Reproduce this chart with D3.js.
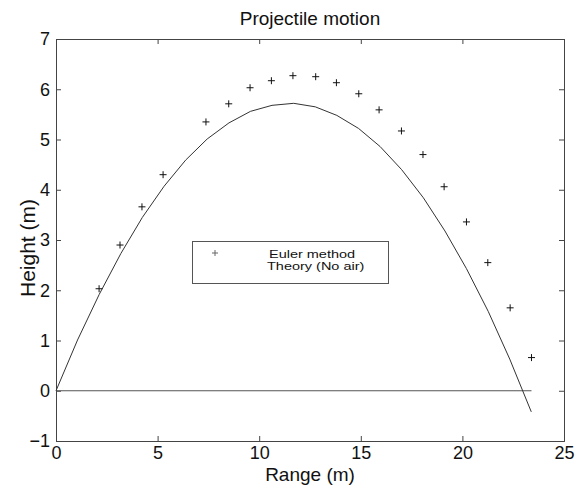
<!DOCTYPE html>
<html>
<head>
<meta charset="utf-8">
<script src="https://cdn.jsdelivr.net/npm/d3@7"></script>
<style>
  body { margin: 0; background: #fff; }
  svg text { font-family: "Liberation Sans", Arial, Helvetica, sans-serif; fill: #111; }
</style>
</head>
<body>
<div id="chart"></div>
<script>
//Datos
const eulerX = [2.12, 3.15, 4.23, 5.27, 7.38, 8.5, 9.55, 10.6, 11.66, 12.78, 13.8, 14.9, 15.9, 17.0, 18.06, 19.1, 20.2, 21.25, 22.35, 23.4];
const eulerY = [2.03, 2.9, 3.66, 4.3, 5.35, 5.71, 6.03, 6.17, 6.27, 6.25, 6.13, 5.91, 5.59, 5.17, 4.7, 4.06, 3.36, 2.55, 1.65, 0.66];

const theoryX = [0, 1.06, 2.13, 3.19, 4.25, 5.32, 6.38, 7.44, 8.51, 9.57, 10.63, 11.7, 12.76, 13.82, 14.89, 15.95, 17.01, 18.08, 19.14, 20.2, 21.27, 22.33, 23.39];
const theoryY = [0, 1.01, 1.92, 2.73, 3.45, 4.07, 4.59, 5.01, 5.33, 5.56, 5.68, 5.72, 5.65, 5.48, 5.22, 4.86, 4.4, 3.84, 3.18, 2.43, 1.58, 0.63, -0.42];

const groundX = [0, 23.4];
const groundY = [0, 0];

const xTicks = [0, 5, 10, 15, 20, 25];
const yTicks = [-1, 0, 1, 2, 3, 4, 5, 6, 7];

const legendLabels = ['Euler method', 'Theory (No air)'];

let margin = {top: 39, right: 13, bottom: 47, left: 56},
    width = 577 - margin.left - margin.right,
    height = 488 - margin.top - margin.bottom;

let svg = d3.select('#chart')
    .append('svg')
        .attr('width', 577)
        .attr('height', 488)
    .append('g')
        .attr('transform', 'translate(' + margin.left + ',' + margin.top + ')');

let x = d3.scaleLinear().domain([0, 25]).range([0, width]);
let y = d3.scaleLinear().domain([-1, 7]).range([height, 0]);

//Ejes (ticks hacia dentro, estilo matlab)
let axisColor = '#444';

svg.append('g')
    .attr('transform', 'translate(0,' + height + ')')
    .call(d3.axisBottom(x).tickValues(xTicks).tickSize(-5).tickPadding(8).tickFormat(d3.format('d')))
    .call(function(g) {
        g.select('.domain').attr('stroke', axisColor);
        g.selectAll('.tick line').attr('stroke', axisColor);
        g.selectAll('.tick text').attr('font-size', 18).attr('dy', '0.71em').attr('y', 5);
    });

svg.append('g')
    .call(d3.axisTop(x).tickValues(xTicks).tickSize(-5).tickFormat(''))
    .call(function(g) {
        g.select('.domain').attr('stroke', axisColor);
        g.selectAll('.tick line').attr('stroke', axisColor);
    });

svg.append('g')
    .call(d3.axisLeft(y).tickValues(yTicks).tickSize(-5).tickPadding(6).tickFormat(function(d) { return d < 0 ? '\u2212' + Math.abs(d) : d; }))
    .call(function(g) {
        g.select('.domain').attr('stroke', axisColor);
        g.selectAll('.tick line').attr('stroke', axisColor);
        g.selectAll('.tick text').attr('font-size', 18);
    });

svg.append('g')
    .attr('transform', 'translate(' + width + ',0)')
    .call(d3.axisRight(y).tickValues(yTicks).tickSize(-5).tickFormat(''))
    .call(function(g) {
        g.select('.domain').attr('stroke', axisColor);
        g.selectAll('.tick line').attr('stroke', axisColor);
    });

svg.selectAll('.domain').attr('fill', 'none');

//Linea del suelo
let line = d3.line()
    .x(function(d) { return x(d[0]); })
    .y(function(d) { return y(d[1]); });

svg.append('path')
    .datum(d3.zip(groundX, groundY))
    .attr('fill', 'none')
    .attr('stroke', '#555')
    .attr('stroke-width', 1)
    .attr('d', line);

//Teoria
svg.append('path')
    .datum(d3.zip(theoryX, theoryY))
    .attr('fill', 'none')
    .attr('stroke', '#333')
    .attr('stroke-width', 1)
    .attr('d', line);

//Euler (marcadores +)
let plus = function(px, py, r) {
    return 'M' + (px - r) + ',' + py + 'H' + (px + r) + 'M' + px + ',' + (py - r) + 'V' + (py + r);
};

svg.append('g')
    .selectAll('path')
    .data(d3.zip(eulerX, eulerY))
    .enter()
    .append('path')
    .attr('fill', 'none')
    .attr('stroke', '#111')
    .attr('stroke-width', 1)
    .attr('d', function(d) { return plus(x(d[0]), y(d[1]), 3.5); });

//Leyenda
let legend = svg.append('g')
    .attr('transform', 'translate(' + (192 - margin.left) + ',' + (241 - margin.top) + ')');

legend.append('rect')
    .attr('x', 0.5)
    .attr('y', 0.5)
    .attr('width', 196)
    .attr('height', 42)
    .attr('fill', '#fff')
    .attr('stroke', '#555')
    .attr('stroke-width', 1);

legend.append('path')
    .attr('fill', 'none')
    .attr('stroke', '#666')
    .attr('d', plus(23, 12, 3));

let legendText = legend.append('g')
    .attr('transform', 'translate(76,17) scale(1,0.75)');

legendText.selectAll('text')
    .data(legendLabels)
    .enter()
    .append('text')
    .attr('x', function(d, i) { return i == 0 ? 1 : -1; })
    .attr('y', function(d, i) { return i * 16.5; })
    .attr('font-size', 14.5)
    .text(function(d) { return d; });

//Titulos
svg.append('text')
    .attr('x', width / 2)
    .attr('y', 25 - margin.top)
    .attr('text-anchor', 'middle')
    .attr('font-size', 19)
    .text('Projectile motion');

svg.append('text')
    .attr('x', width / 2)
    .attr('y', 481 - margin.top)
    .attr('text-anchor', 'middle')
    .attr('font-size', 19)
    .text('Range (m)');

svg.append('text')
    .attr('transform', 'translate(' + (35 - margin.left) + ',' + (248 - margin.top) + ') rotate(-90)')
    .attr('text-anchor', 'middle')
    .attr('font-size', 21)
    .text('Height (m)');
</script>
</body>
</html>
